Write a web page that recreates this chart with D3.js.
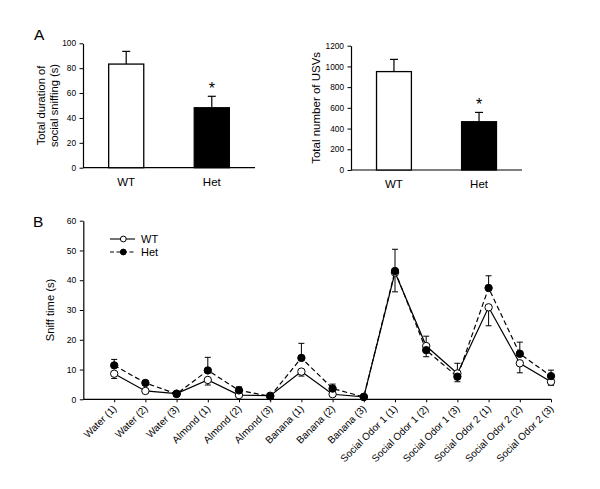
<!DOCTYPE html>
<html><head><meta charset="utf-8">
<script src="https://cdn.jsdelivr.net/npm/d3@7"></script>
<style>
body{margin:0;background:#fff;}
svg{font-family:"Liberation Sans",Arial,sans-serif;}
text{fill:#000;}
</style></head><body>
<svg id="c" width="600" height="489"></svg>
<script>
// ---- Data ----
const groups = ["WT", "Het"];
const sniffMeans = [83.3, 48.2];
const sniffErr = [10.2, 9.2];
const usvMeans = [950, 466];
const usvErr = [118, 90];
const sniffTicks = [0, 20, 40, 60, 80, 100];
const usvTicks = [0, 200, 400, 600, 800, 1000, 1200];

const odors = ["Water (1)", "Water (2)", "Water (3)", "Almond (1)", "Almond (2)", "Almond (3)",
  "Banana (1)", "Banana (2)", "Banana (3)", "Social Odor 1 (1)", "Social Odor 1 (2)",
  "Social Odor 1 (3)", "Social Odor 2 (1)", "Social Odor 2 (2)", "Social Odor 2 (3)"];
const wtSniff = [8.6, 2.8, 1.9, 6.5, 1.4, 1.2, 9.3, 1.7, 0.8, 42.6, 17.9, 8.7, 30.9, 12.1, 5.9];
const wtSem = [1.6, 0.5, 0.4, 1.7, 0.5, 0.3, 1.5, 0.4, 0.3, 6.5, 3.3, 3.4, 6.2, 3.2, 1.2];
const hetSniff = [11.4, 5.5, 1.8, 9.7, 3.0, 1.0, 13.9, 3.6, 0.8, 43.1, 16.5, 7.6, 37.4, 15.3, 7.8];
const hetSem = [2.0, 0.6, 0.3, 4.4, 1.2, 0.3, 4.9, 1.5, 0.3, 7.3, 2.2, 1.7, 4.1, 3.9, 2.0];
const sniffTimeTicks = [0, 10, 20, 30, 40, 50, 60];

const svg = d3.select("#c");
const FS = 8.3;

function barPanel(opt) {
  const g = svg.append("g");
  const x = d3.scaleBand().domain(groups).range([opt.x0, opt.x1]).paddingInner(0.59).paddingOuter(0.3);
  const y = d3.scaleLinear().domain([0, opt.max]).range([opt.y0, opt.y1]);
  const ya = g.append("g").attr("transform", `translate(${opt.x0},0)`)
    .call(d3.axisLeft(y).tickValues(opt.ticks).tickFormat(d3.format("d")).tickSize(3.5).tickSizeOuter(0).tickPadding(3.5));
  ya.selectAll("text").attr("font-size", FS).attr("font-family", "Liberation Sans, Arial").attr("fill", "#000");
  ya.select(".domain").attr("stroke-width", 1.2);
  g.append("line").attr("x1", opt.x0).attr("x2", opt.x1).attr("y1", y(0)).attr("y2", y(0))
    .attr("stroke", "#000").attr("stroke-width", 1.2);
  groups.forEach((k, i) => {
    const cx = x(k) + x.bandwidth() / 2;
    const top = y(opt.means[i] + opt.err[i]);
    g.append("line").attr("x1", cx).attr("x2", cx).attr("y1", y(opt.means[i])).attr("y2", top)
      .attr("stroke", "#000").attr("stroke-width", 1.2);
    g.append("line").attr("x1", cx - 4).attr("x2", cx + 4).attr("y1", top).attr("y2", top)
      .attr("stroke", "#000").attr("stroke-width", 1.2);
    g.append("rect").attr("x", x(k)).attr("width", x.bandwidth())
      .attr("y", y(opt.means[i])).attr("height", y(0) - y(opt.means[i]))
      .attr("fill", i === 0 ? "#fff" : "#000").attr("stroke", "#000").attr("stroke-width", 1.3);
    g.append("text").attr("x", cx).attr("y", y(0) + 18).attr("text-anchor", "middle")
      .attr("font-size", 11.5).text(k);
    if (i === 1) {
      g.append("text").attr("x", cx).attr("y", top - 2).attr("text-anchor", "middle")
        .attr("font-size", 16).text("*");
    }
  });
  const ly = (opt.y0 + opt.y1) / 2;
  opt.label.forEach((t, j) => {
    g.append("text").attr("transform", `translate(${opt.lx + j * 13.5},${ly}) rotate(-90)`)
      .attr("text-anchor", "middle").attr("font-size", opt.lfs).text(t);
  });
}

barPanel({x0: 83, x1: 255, y0: 167.7, y1: 43.3, max: 100, ticks: sniffTicks,
  means: sniffMeans, err: sniffErr, label: ["Total duration of", "social sniffing (s)"], lx: 44.5, lfs: 11.2});
barPanel({x0: 351, x1: 522, y0: 170, y1: 45.7, max: 1200, ticks: usvTicks,
  means: usvMeans, err: usvErr, label: ["Total number of USVs"], lx: 319.5, lfs: 11.5});

svg.append("text").attr("x", 34).attr("y", 40).attr("font-size", 15.5).text("A");
svg.append("text").attr("x", 33).attr("y", 226.5).attr("font-size", 15.5).text("B");

// ---- Panel B ----
const gB = svg.append("g");
const xB = d3.scalePoint().domain(odors).range([114.2, 551]);
const yB = d3.scaleLinear().domain([0, 60]).range([399.3, 220.7]);
const yax = gB.append("g").attr("transform", "translate(83.3,0)")
  .call(d3.axisLeft(yB).tickValues(sniffTimeTicks).tickSize(3.5).tickSizeOuter(0).tickPadding(3.5));
yax.selectAll("text").attr("font-size", 8.6).attr("font-family", "Liberation Sans, Arial").attr("fill", "#000");
yax.select(".domain").attr("stroke-width", 1.2);
const xax = gB.append("g").attr("transform", `translate(0,${yB(0)})`)
  .call(d3.axisBottom(xB).tickSize(3).tickSizeOuter(0));
xax.select(".domain").remove();
xax.selectAll("text").remove();
gB.append("line").attr("x1", 83.3).attr("x2", 551).attr("y1", yB(0)).attr("y2", yB(0))
  .attr("stroke", "#000").attr("stroke-width", 1.2);
gB.selectAll("text.xl").data(odors).enter().append("text").attr("class", "xl")
  .attr("transform", d => `translate(${xB(d) + 3},${yB(0) + 10}) rotate(-45)`)
  .attr("text-anchor", "end").attr("font-size", 10).attr("fill", "#000").text(d => d);

gB.append("text").attr("transform", `translate(54,${(399.3 + 220.7) / 2}) rotate(-90)`)
  .attr("text-anchor", "middle").attr("font-size", 11.2).text("Sniff time (s)");

const series = [
  {vals: wtSniff, sem: wtSem, other: hetSniff, fill: "#fff", dash: null},
  {vals: hetSniff, sem: hetSem, other: wtSniff, fill: "#000", dash: "5,3"}
];
series.forEach(s => {
  odors.forEach((o, i) => {
    const dir = s.vals[i] >= s.other[i] ? 1 : -1;
    const end = yB(s.vals[i] + dir * s.sem[i]);
    const cx = xB(o);
    gB.append("line").attr("x1", cx).attr("x2", cx).attr("y1", yB(s.vals[i])).attr("y2", end)
      .attr("stroke", "#000").attr("stroke-width", 1);
    gB.append("line").attr("x1", cx - 3).attr("x2", cx + 3).attr("y1", end).attr("y2", end)
      .attr("stroke", "#000").attr("stroke-width", 1);
  });
});
const line = d3.line().x((d, i) => xB(odors[i])).y(d => yB(d));
series.forEach(s => {
  gB.append("path").datum(s.vals).attr("d", line).attr("fill", "none")
    .attr("stroke", "#000").attr("stroke-width", 1.2).attr("stroke-dasharray", s.dash);
});
series.forEach(s => {
  gB.selectAll(null).data(s.vals).enter().append("circle")
    .attr("cx", (d, i) => xB(odors[i])).attr("cy", d => yB(d)).attr("r", 3.7)
    .attr("fill", s.fill).attr("stroke", "#000").attr("stroke-width", 1);
});
[["WT", series[0], 239], ["Het", series[1], 252]].forEach(([t, s, ly]) => {
  gB.append("line").attr("x1", 110).attr("x2", 135).attr("y1", ly).attr("y2", ly)
    .attr("stroke", "#000").attr("stroke-width", 1.1).attr("stroke-dasharray", s.dash ? "4,2.5" : null);
  gB.append("circle").attr("cx", 123.3).attr("cy", ly).attr("r", 2.9)
    .attr("fill", s.fill).attr("stroke", "#000");
  gB.append("text").attr("x", 141).attr("y", ly + 4).attr("font-size", 11).text(t);
});
</script></body></html>
